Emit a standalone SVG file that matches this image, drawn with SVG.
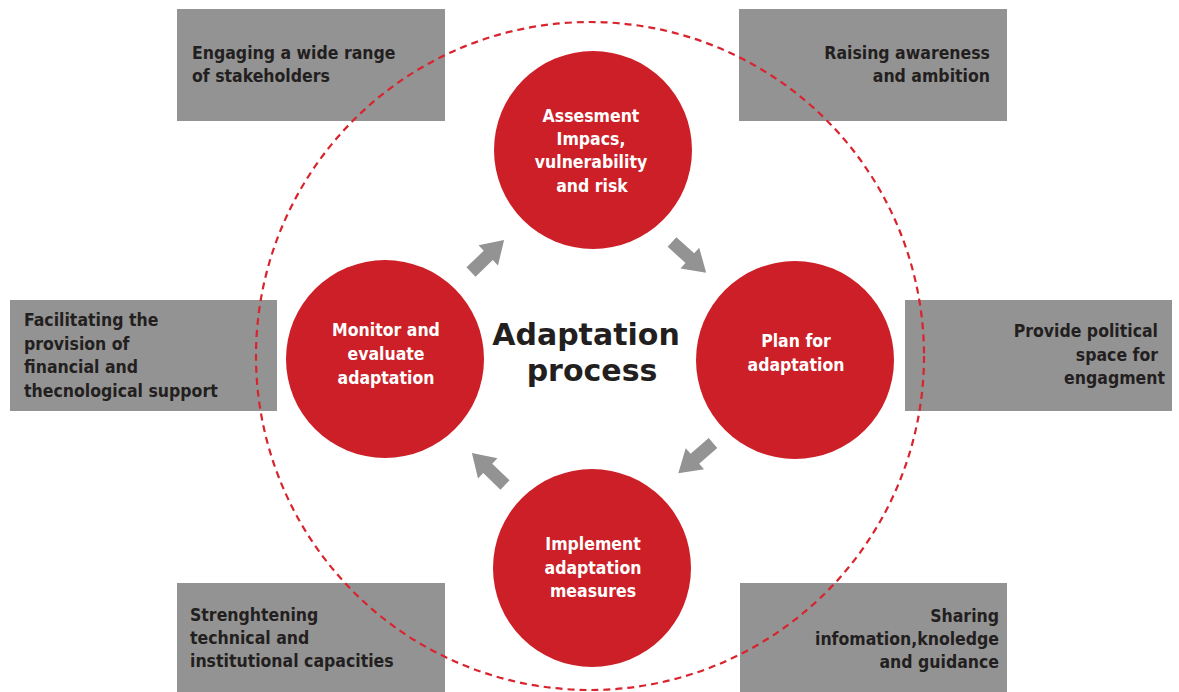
<svg xmlns="http://www.w3.org/2000/svg" width="1179" height="692" viewBox="0 0 1179 692">
<style>
.box{fill:#939393}
.bt{font-family:"DejaVu Sans Condensed","DejaVu Sans",sans-serif;font-weight:bold;font-size:17.5px;fill:#231f20}
.ct{font-family:"DejaVu Sans Condensed","DejaVu Sans",sans-serif;font-weight:bold;font-size:17.5px;fill:#ffffff;text-anchor:middle}
.node{fill:#cc1f27}
.arr{fill:#939393}
.title{font-family:"DejaVu Sans",sans-serif;font-weight:bold;font-size:30px;fill:#231f20;text-anchor:middle}
</style>
<defs>
<path id="barrow" d="M0,-6.5 L24,-6.5 L24,-14 L46,0 L24,14 L24,6.5 L0,6.5 Z"/>
</defs>
<rect width="1179" height="692" fill="#ffffff"/>
<g id="box-stakeholders"><rect class="box" x="177" y="9" width="268" height="112"/>
<text class="bt"><tspan x="192" y="59">Engaging a wide range</tspan><tspan x="192" y="82">of stakeholders</tspan></text></g>
<g id="box-awareness"><rect class="box" x="739" y="9" width="268" height="112"/>
<text class="bt" text-anchor="end"><tspan x="990" y="59">Raising awareness</tspan><tspan x="990" y="82">and ambition</tspan></text></g>
<g id="box-financial"><rect class="box" x="10" y="300" width="267" height="111"/>
<text class="bt"><tspan x="24" y="326">Facilitating the</tspan><tspan x="24" y="350">provision of</tspan><tspan x="24" y="373">financial and</tspan><tspan x="24" y="397">thecnological support</tspan></text></g>
<g id="box-political"><rect class="box" x="905" y="300" width="267" height="111"/>
<text class="bt" text-anchor="end"><tspan x="1158" y="337">Provide political</tspan><tspan x="1158" y="361">space for</tspan><tspan x="1165" y="384">engagment</tspan></text></g>
<g id="box-capacities"><rect class="box" x="177" y="583" width="268" height="109"/>
<text class="bt"><tspan x="190" y="621">Strenghtening</tspan><tspan x="190" y="644">technical and</tspan><tspan x="190" y="667">institutional capacities</tspan></text></g>
<g id="box-sharing"><rect class="box" x="740" y="583" width="267" height="109"/>
<text class="bt" text-anchor="end"><tspan x="999" y="622">Sharing</tspan><tspan x="999" y="645">infomation,knoledge</tspan><tspan x="999" y="668">and guidance</tspan></text></g>
<g id="ring"><circle cx="590" cy="356" r="334" fill="none" stroke="#d9232d" stroke-width="2.2" stroke-dasharray="7 5"/></g>
<g id="node-assessment"><circle class="node" cx="593" cy="150" r="99"/>
<text class="ct"><tspan x="591" y="122">Assesment</tspan><tspan x="591" y="145">Impacs,</tspan><tspan x="591" y="168">vulnerability</tspan><tspan x="592" y="192">and risk</tspan></text></g>
<g id="node-plan"><circle class="node" cx="795" cy="360" r="99"/>
<text class="ct"><tspan x="796" y="347">Plan for</tspan><tspan x="796" y="371">adaptation</tspan></text></g>
<g id="node-implement"><circle class="node" cx="592" cy="568" r="99"/>
<text class="ct"><tspan x="593" y="550">Implement</tspan><tspan x="593" y="574">adaptation</tspan><tspan x="593" y="597">measures</tspan></text></g>
<g id="node-monitor"><circle class="node" cx="385" cy="359" r="99"/>
<text class="ct"><tspan x="386" y="336">Monitor and</tspan><tspan x="386" y="360">evaluate</tspan><tspan x="386" y="384">adaptation</tspan></text></g>
<g id="title"><text class="title"><tspan x="586" y="345">Adaptation</tspan><tspan x="592" y="381">process</tspan></text></g>
<g id="connectors">
<use href="#barrow" class="arr" transform="translate(471,272) rotate(-44)"/>
<use href="#barrow" class="arr" transform="translate(672,242) rotate(42)"/>
<use href="#barrow" class="arr" transform="translate(713,443) rotate(139)"/>
<use href="#barrow" class="arr" transform="translate(505,485) rotate(-136)"/>
</g>
</svg>
